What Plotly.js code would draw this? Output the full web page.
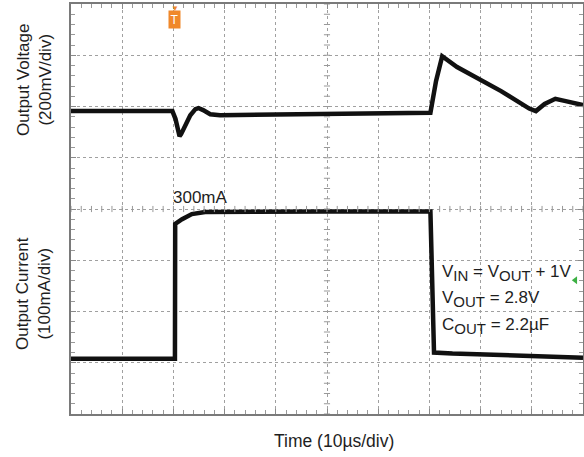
<!DOCTYPE html>
<html>
<head>
<meta charset="utf-8">
<script src="https://cdn.plot.ly/plotly-3.0.1.min.js"></script>
<style>html,body{margin:0;padding:0;background:#fff;}#chart{width:584px;height:457px;}</style>
</head>
<body>
<div id="chart"></div>
<script>
// Time axis in microseconds (10 µs/div), vertical axis in screen divisions (0..8)
const voltageTime = [0, 19.8, 20.4, 20.8, 21.2, 21.5, 22.3, 23.3, 24.3, 24.9, 25.8, 27.2, 29.1, 50, 70.2, 71.3, 72.5, 75.4, 80.5, 84.0, 89.5, 90.8, 92.5, 94.6, 96.4, 100];
const voltageDiv  = [5.91, 5.91, 5.76, 5.56, 5.42, 5.46, 5.64, 5.83, 5.95, 5.97, 5.93, 5.85, 5.83, 5.86, 5.88, 6.5, 6.98, 6.77, 6.5, 6.3, 5.96, 5.91, 6.05, 6.15, 6.11, 6.03];

const currentTime = [0, 20.3, 20.35, 21.7, 23.6, 26.2, 50, 70.2, 70.9, 71.2, 74.5, 100];
const currentDiv  = [1.08, 1.08, 3.71, 3.8, 3.9, 3.94, 3.95, 3.95, 1.2, 1.2, 1.18, 1.1];

const xTitle = "Time (10µs/div)";
const yTitleVoltage = "Output Voltage<br>(200mV/div)";
const yTitleCurrent = "Output Current<br>(100mA/div)";
const loadLabel = "300mA";
const SUB = (s) => '<sub><span style="font-size:15px">' + s + '</span></sub>';
const conditions = [
  "V" + SUB("IN") + " = V" + SUB("OUT") + " + 1V",
  "V" + SUB("OUT") + " = 2.8V",
  "C" + SUB("OUT") + " = 2.2µF"
];

const FONT = "Liberation Sans, Arial, sans-serif";
const textColor = "#1e1e1e";

const traces = [
  {x: voltageTime, y: voltageDiv, mode: "lines", line: {color: "#111", width: 4.5}, hoverinfo: "skip"},
  {x: currentTime, y: currentDiv, mode: "lines", line: {color: "#111", width: 4.5}, hoverinfo: "skip"},
  {x: [98.5], y: [2.61], mode: "markers", marker: {symbol: "triangle-left", size: 7, color: "#3cb043"}, cliponaxis: false, hoverinfo: "skip"}
];

// decorative tick marks on the center cross-hair
const shapes = [];
for (let i = 0; i <= 50; i++) {
  const xv = i * 2;
  shapes.push({type: "line", xref: "x", yref: "y", x0: xv, x1: xv, y0: 3.94, y1: 4.06, line: {color: "#999", width: 1}});
}
for (let j = 0; j <= 40; j++) {
  const yv = j * 0.2;
  shapes.push({type: "line", xref: "x", yref: "y", x0: 49.4, x1: 50.6, y0: yv, y1: yv, line: {color: "#999", width: 1}});
}

const annotations = [
  {text: yTitleVoltage, xref: "paper", yref: "paper", x: -0.07, y: 0.815, textangle: -90, showarrow: false, font: {family: FONT, size: 17, color: textColor}, xanchor: "center", yanchor: "middle"},
  {text: yTitleCurrent, xref: "paper", yref: "paper", x: -0.072, y: 0.293, textangle: -90, showarrow: false, font: {family: FONT, size: 17, color: textColor}, xanchor: "center", yanchor: "middle"},
  {text: xTitle, xref: "paper", yref: "paper", x: 0.513, y: -0.066, showarrow: false, font: {family: FONT, size: 17.5, color: textColor}, xanchor: "center", yanchor: "middle"},
  {text: loadLabel, xref: "x", yref: "y", x: 25.2, y: 4.22, showarrow: false, font: {family: FONT, size: 17, color: textColor}, xanchor: "center", yanchor: "middle"},
  {text: "T", xref: "x", yref: "paper", x: 20.3, y: 0.961, showarrow: false, bgcolor: "#f0882a", font: {family: FONT, size: 12, color: "#fff"}, borderpad: 1.5, xanchor: "center", yanchor: "middle"},
  {text: "▼", xref: "x", yref: "paper", x: 20.3, y: 0.988, showarrow: false, font: {family: FONT, size: 8, color: "#f0882a"}, xanchor: "center", yanchor: "middle"}
];
conditions.forEach((c, i) => {
  annotations.push({text: c, xref: "x", yref: "y", x: 72.0, y: 2.75 - i * 0.515, showarrow: false, font: {family: FONT, size: 17, color: textColor}, xanchor: "left", yanchor: "middle"});
});

const axisCommon = {
  showticklabels: false,
  showline: true, linecolor: "#7a7a7a", linewidth: 2, mirror: "ticks",
  ticks: "inside", ticklen: 5, tickcolor: "#8a8a8a", tickwidth: 1,
  showgrid: true, gridcolor: "#a0a0a0", griddash: "dot", gridwidth: 1,
  zeroline: false, fixedrange: true
};

const layout = {
  width: 584, height: 457,
  margin: {l: 71, r: 1, t: 4, b: 43},
  paper_bgcolor: "#fff", plot_bgcolor: "#fff",
  showlegend: false,
  xaxis: Object.assign({}, axisCommon, {range: [0, 100], dtick: 10, tick0: 0, minor: {dtick: 2, ticks: "inside", ticklen: 4, tickcolor: "#999", showgrid: false}}),
  yaxis: Object.assign({}, axisCommon, {range: [0, 8], dtick: 1, tick0: 0, minor: {dtick: 0.2, ticks: "inside", ticklen: 4, tickcolor: "#999", showgrid: false}}),
  shapes: shapes,
  annotations: annotations
};

Plotly.newPlot("chart", traces, layout, {displayModeBar: false, staticPlot: true});
</script>
</body>
</html>
